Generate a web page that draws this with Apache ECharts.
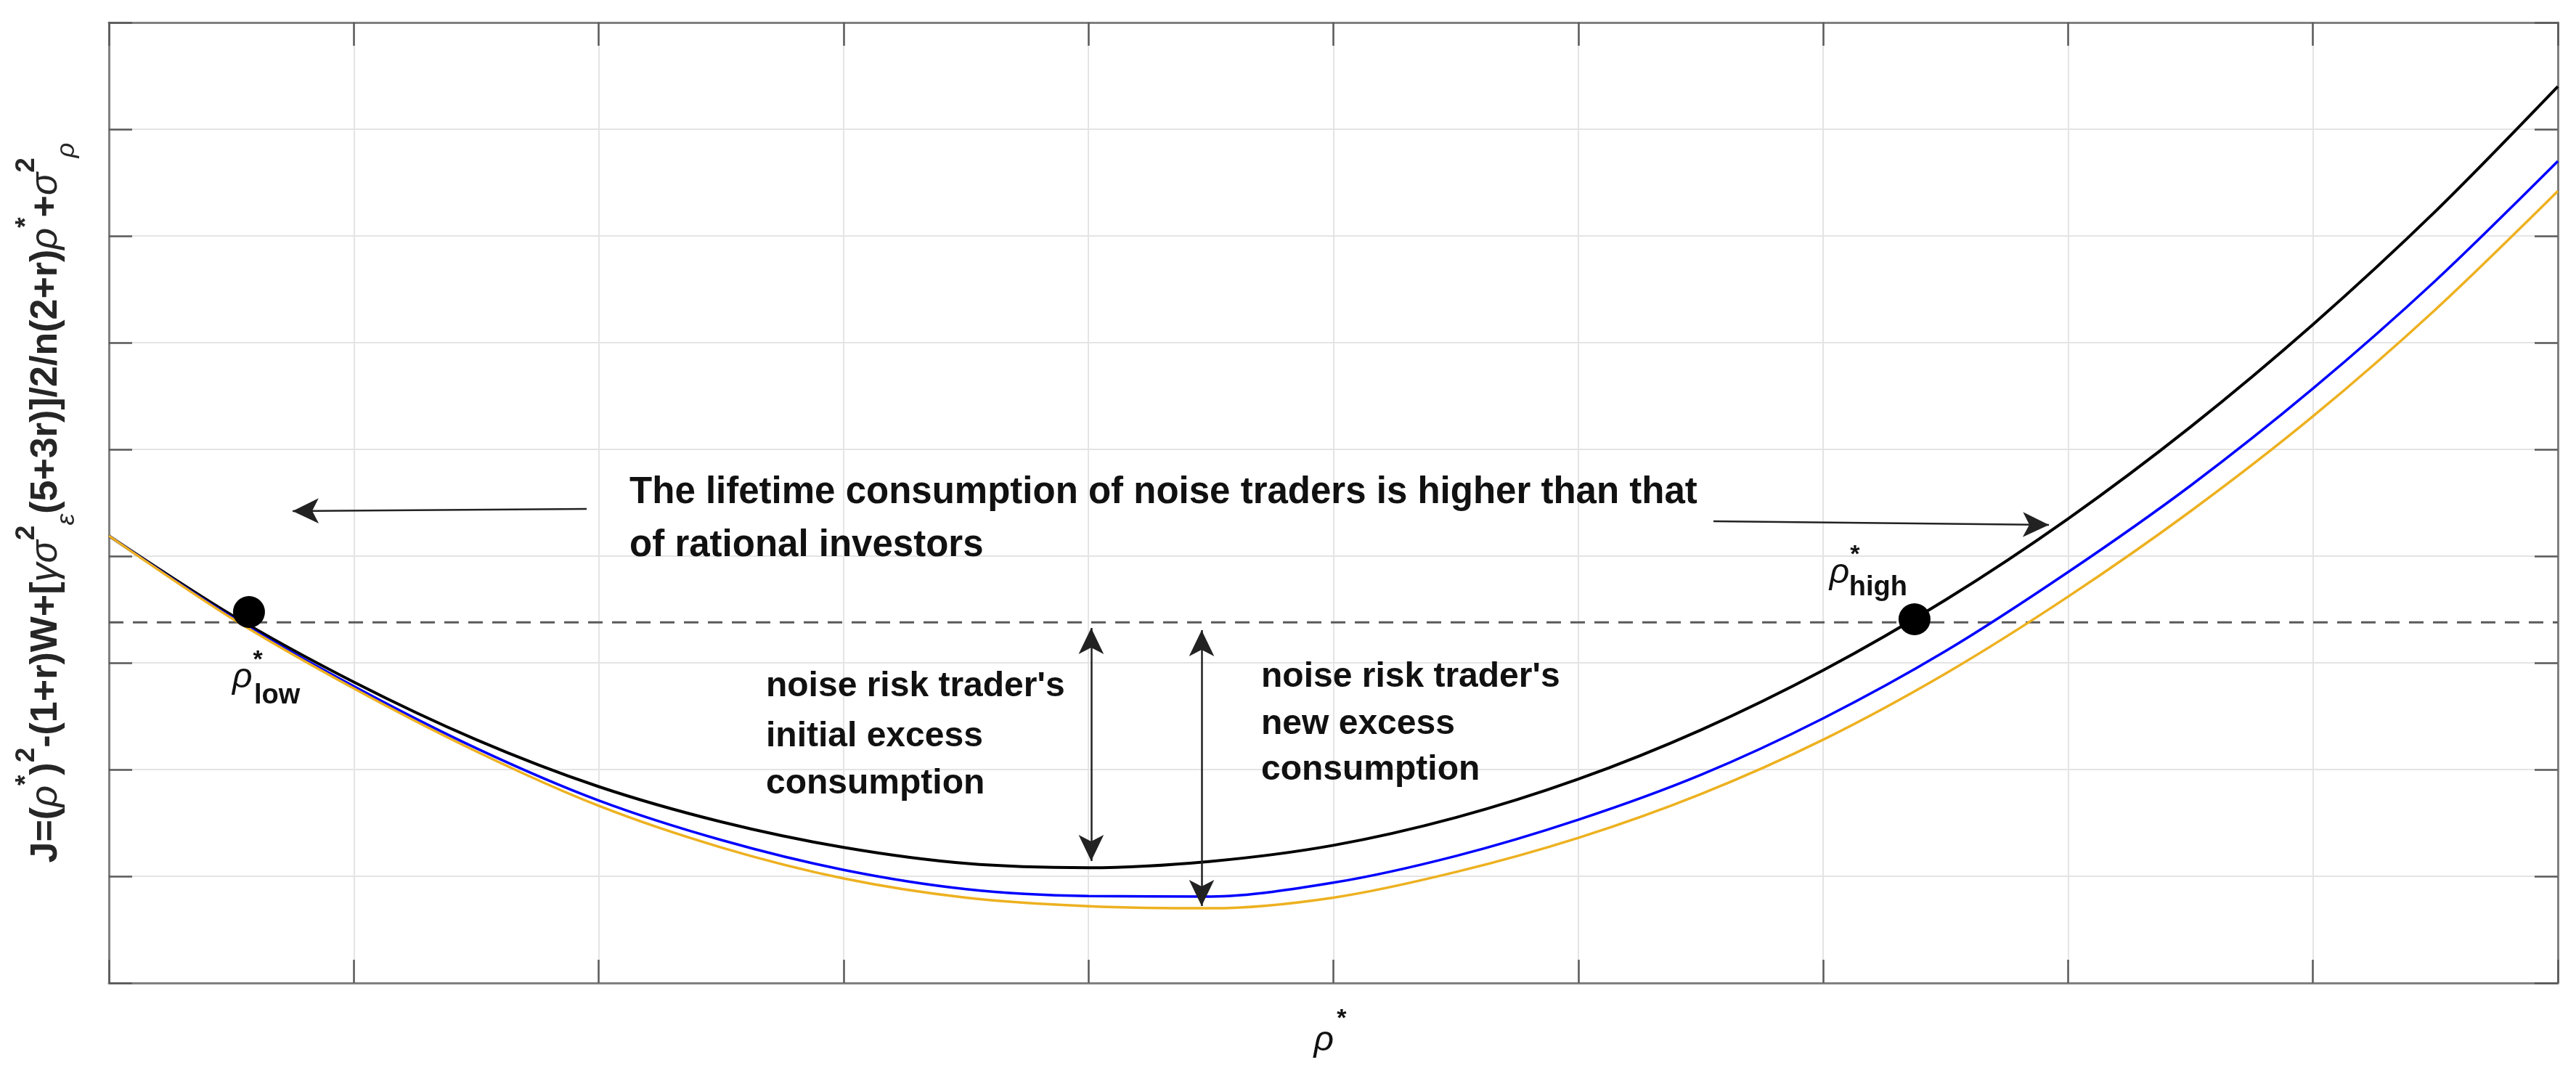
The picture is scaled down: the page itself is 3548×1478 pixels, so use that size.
<!DOCTYPE html>
<html>
<head>
<meta charset="utf-8">
<script src="https://cdn.jsdelivr.net/npm/echarts@6/dist/echarts.min.js"></script>
<style>
html, body { margin: 0; padding: 0; background: #fff; }
#chart { width: 3548px; height: 1478px; }
</style>
</head>
<body>
<div id="chart"></div>
<script>
// rho* runs over 10 grid steps, J over 9; the figure shows no tick labels
var rho = [0, 0.5, 1, 1.5, 2, 2.5, 3, 3.5, 4, 4.5, 5, 5.5, 6, 6.5, 7, 7.5, 8, 8.5, 9, 9.5, 10];
var initialJ = [4.19, 3.45, 2.82, 2.28, 1.84, 1.51, 1.27, 1.12, 1.08, 1.14, 1.29, 1.55, 1.91, 2.37, 2.93, 3.59, 4.35, 5.21, 6.17, 7.23, 8.40];
var newJ     = [4.19, 3.43, 2.78, 2.20, 1.71, 1.34, 1.06, 0.88, 0.815, 0.81, 0.94, 1.19, 1.53, 1.95, 2.48, 3.11, 3.85, 4.66, 5.57, 6.58, 7.70];
var thirdJ   = [4.19, 3.42, 2.76, 2.17, 1.66, 1.27, 0.98, 0.80, 0.72, 0.70, 0.80, 1.04, 1.36, 1.77, 2.28, 2.90, 3.62, 4.42, 5.31, 6.31, 7.42];
var threshold = 3.38;
var rhoLow = [0.572, 3.476];
var rhoHigh = [7.373, 3.408];

// arrows: [from, to], tips sit on the end points
var oneWayArrows = [
  [[1.951, 4.442], [0.750, 4.422]],
  [[6.552, 4.327], [7.922, 4.293]]
];
var twoWayArrows = [
  [[4.011, 3.327], [4.011, 1.143]],
  [[4.462, 3.306], [4.462, 0.721]]
];

var headline = [
  { text: 'The lifetime consumption of noise traders is higher than that', at: [2.126, 4.59] },
  { text: 'of rational investors', at: [2.126, 4.095] }
];
var notes = [
  { text: "noise risk trader's", at: [2.683, 2.776] },
  { text: 'initial excess', at: [2.683, 2.306] },
  { text: 'consumption', at: [2.683, 1.864] },
  { text: "noise risk trader's", at: [4.705, 2.864] },
  { text: 'new excess', at: [4.705, 2.422] },
  { text: 'consumption', at: [4.705, 1.993] }
];

var rhoLabels = [
  { sub: 'low', rho: [0.504, 2.857], star: [0.608, 3.02], subAt: [0.593, 2.687] },
  { sub: 'high', rho: [7.026, 3.837], star: [7.130, 4.007], subAt: [7.106, 3.707] },
  { sub: '', rho: [4.92, -0.544], star: [5.034, -0.34] }
];

var yLabelText = '{m|J=(}{g|ρ}{sup|*}{m|)}{sup|2}{m|-(1+r)W+[}{g|γσ}{sup|2}{sub|ε}{m|(5+3r)]/2/n(2+r)}{g|ρ}{sup|*}{m|+}{g|σ}{sup|2}{sub|ρ}';

function pairs(xs, ys) {
  return xs.map(function (x, i) { return [x, ys[i]]; });
}

var FONT = '"Liberation Sans", Arial, sans-serif';

function boxAxis(pos, max, main) {
  return {
    type: 'value',
    position: pos,
    min: 0,
    max: max,
    interval: 1,
    axisLine: { show: true, onZero: false, lineStyle: { color: '#808080', width: 3 } },
    axisTick: { show: true, inside: true, length: 32, lineStyle: { color: '#5a5a5a', width: 2.5 } },
    axisLabel: { show: false },
    splitLine: { show: main, lineStyle: { color: '#e4e4e4', width: 2 } }
  };
}

var option = {
  animation: false,
  backgroundColor: '#fff',
  textStyle: { fontFamily: FONT },
  grid: { left: 150, right: 25, top: 31, bottom: 124, containLabel: false, outerBoundsMode: 'none' },
  xAxis: [boxAxis('bottom', 10, true), boxAxis('top', 10, false)],
  yAxis: [boxAxis('left', 9, true), boxAxis('right', 9, false)],
  series: [
    {
      name: 'threshold',
      type: 'line',
      data: [[0, threshold], [10, threshold]],
      showSymbol: false,
      silent: true,
      lineStyle: { color: '#5a5a5a', width: 3, type: [20, 13] }
    },
    {
      name: 'initial',
      type: 'line',
      data: pairs(rho, initialJ),
      smooth: 0.3,
      showSymbol: false,
      lineStyle: { color: '#000', width: 4 }
    },
    {
      name: 'new',
      type: 'line',
      data: pairs(rho, newJ),
      smooth: 0.3,
      showSymbol: false,
      lineStyle: { color: '#0000ff', width: 3.5 }
    },
    {
      name: 'third',
      type: 'line',
      data: pairs(rho, thirdJ),
      smooth: 0.3,
      showSymbol: false,
      lineStyle: { color: '#EDB120', width: 3.5 }
    },
    {
      name: 'crossings',
      type: 'scatter',
      data: [rhoLow, rhoHigh],
      symbolSize: 44,
      itemStyle: { color: '#000', opacity: 1 },
      z: 5,
      markLine: {
        silent: true,
        symbolSize: [26, 36],
        label: { show: false },
        lineStyle: { color: '#222', width: 2.5, type: 'solid', opacity: 1 },
        data: oneWayArrows.map(function (a) {
          return [{ coord: a[0], symbol: 'none' }, { coord: a[1], symbol: 'arrow' }];
        }).concat(twoWayArrows.map(function (a) {
          return [{ coord: a[0], symbol: 'arrow' }, { coord: a[1], symbol: 'arrow' }];
        }))
      }
    }
  ]
};

var chart = echarts.init(document.getElementById('chart'));
chart.setOption(option);

function toPx(p) { return chart.convertToPixel({ gridIndex: 0 }, p); }

function textEl(str, at, font, align) {
  var p = toPx(at);
  return {
    type: 'text', x: p[0], y: p[1], silent: true,
    style: { text: str, font: font, fill: '#111', align: align, textAlign: align, verticalAlign: 'middle', textVerticalAlign: 'middle' }
  };
}

var elements = [];
headline.forEach(function (n) {
  elements.push(textEl(n.text, n.at, 'bold 51px ' + FONT, 'left'));
});
notes.forEach(function (n) {
  elements.push(textEl(n.text, n.at, 'bold 48px ' + FONT, 'left'));
});
rhoLabels.forEach(function (r) {
  elements.push(textEl('ρ', r.rho, 'italic 48px ' + FONT, 'left'));
  elements.push(textEl('*', r.star, 'bold 34px ' + FONT, 'center'));
  if (r.sub) elements.push(textEl(r.sub, r.subAt, 'bold 38px ' + FONT, 'left'));
});

var yc = toPx([-0.255, 4.5]);
elements.push({
  type: 'text', x: yc[0], y: yc[1], rotation: Math.PI / 2, silent: true,
  style: {
    text: yLabelText,
    fill: '#262626',
    align: 'center', textAlign: 'center',
    verticalAlign: 'middle', textVerticalAlign: 'middle',
    rich: {
      m: { fontFamily: FONT, fontWeight: 'bold', fontSize: 52, lineHeight: 92, fill: '#262626' },
      g: { fontFamily: FONT, fontStyle: 'italic', fontSize: 52, lineHeight: 92, fill: '#262626' },
      sup: { fontFamily: FONT, fontWeight: 'bold', fontSize: 37, lineHeight: 36, verticalAlign: 'top', fill: '#262626' },
      sub: { fontFamily: FONT, fontStyle: 'italic', fontSize: 36, lineHeight: 20, verticalAlign: 'bottom', fill: '#262626' }
    }
  }
});

chart.setOption({ graphic: { elements: elements } });
</script>
</body>
</html>
